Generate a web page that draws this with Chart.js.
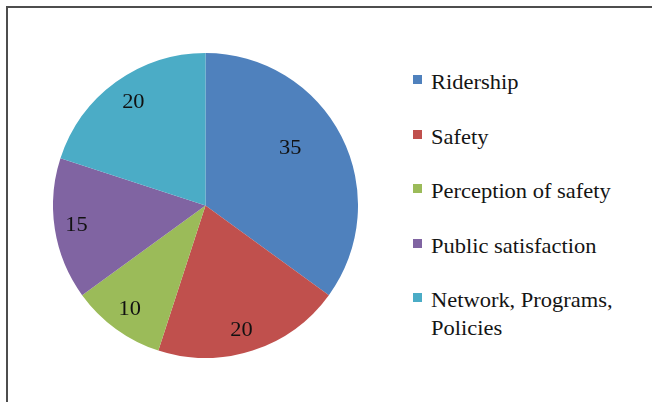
<!DOCTYPE html>
<html>
<head>
<meta charset="utf-8">
<script src="https://cdn.jsdelivr.net/npm/chart.js@4/dist/chart.umd.min.js"></script>
<style>
    html, body {
        margin: 0;
        padding: 0;
        background: #ffffff;
    }

    #frame {
        position: absolute;
        left: 6px;
        top: 6px;
        width: 646px;
        height: 396px;
        border-top: 2px solid #4d4d4d;
        border-left: 2px solid #4d4d4d;
    }

    #pieBox {
        position: absolute;
        left: 53px;
        top: 53px;
        width: 305px;
        height: 305px;
    }

    #legend {
        position: absolute;
        left: 412px;
        top: 0;
        font-family: "Liberation Serif", "Times New Roman", serif;
        font-size: 21px;
        color: #141414;
    }

    .legend-item {
        position: absolute;
        left: 0;
        width: 230px;
    }

    .legend-swatch {
        position: absolute;
        left: 1px;
        top: 7px;
        width: 9px;
        height: 9px;
    }

    .legend-text {
        position: absolute;
        left: 19px;
        top: 0;
        line-height: 28px;
        white-space: nowrap;
        transform: scaleX(1.07);
        transform-origin: left top;
    }
</style>
</head>
<body>
<div id="frame"></div>
<div id="pieBox"><canvas id="pieChart"></canvas></div>
<div id="legend"></div>

<script>

const categories = [
    "Ridership",
    "Safety",
    "Perception of safety",
    "Public satisfaction",
    "Network, Programs, Policies"
];

// legend text as it wraps in the picture
const legendLines = [
    ["Ridership"],
    ["Safety"],
    ["Perception of safety"],
    ["Public satisfaction"],
    ["Network, Programs,", "Policies"]
];

const shares = [35, 20, 10, 15, 20];

const sliceColors = [
    "#4f81bd",
    "#c0504d",
    "#9bbb59",
    "#8064a2",
    "#4bacc6"
];

const sliceLabels = {

    id: "sliceLabels",

    afterDatasetsDraw(chart, args, opts) {

        const ctx = chart.ctx;
        const meta = chart.getDatasetMeta(0);

        meta.data.forEach((arc, i) => {

            const p = arc.getProps(
                ["x", "y", "startAngle", "endAngle", "outerRadius"],
                true
            );

            const mid = (p.startAngle + p.endAngle) / 2 +
                opts.angleShift[i] * Math.PI / 180;

            const r = p.outerRadius * opts.radius[i];

            ctx.save();
            ctx.translate(p.x + Math.cos(mid) * r, p.y + Math.sin(mid) * r);
            ctx.scale(opts.stretch, 1);
            ctx.font = opts.font;
            ctx.fillStyle = opts.color;
            ctx.textAlign = "center";
            ctx.textBaseline = "middle";
            ctx.fillText(String(chart.data.datasets[0].data[i]), 0, 0);
            ctx.restore();

        });

    }

};

function buildLegend() {

    const box = document.getElementById("legend");

    categories.forEach((name, i) => {

        const item = document.createElement("div");
        item.className = "legend-item";
        item.style.top = (68 + i * 54.6) + "px";
        item.title = name;

        const swatch = document.createElement("div");
        swatch.className = "legend-swatch";
        swatch.style.background = sliceColors[i];

        const text = document.createElement("div");
        text.className = "legend-text";
        text.innerHTML = legendLines[i].join("<br>");

        item.appendChild(swatch);
        item.appendChild(text);
        box.appendChild(item);

    });

}

buildLegend();

new Chart(document.getElementById("pieChart"), {

    type: "pie",

    data: {
        labels: categories,
        datasets: [{
            data: shares,
            backgroundColor: sliceColors,
            borderWidth: 0
        }]
    },

    options: {
        responsive: true,
        maintainAspectRatio: false,
        animation: false,
        layout: {
            padding: 0
        },
        plugins: {
            legend: {
                display: false
            },
            tooltip: {
                enabled: false
            },
            sliceLabels: {
                radius: [0.67, 0.857, 0.846, 0.856, 0.825],
                angleShift: [-7, 2, 0, 0, 1],
                stretch: 1.12,
                font: "20px 'Liberation Serif', 'Times New Roman', serif",
                color: "#111111"
            }
        }
    },

    plugins: [sliceLabels]

});

</script>
</body>
</html>
